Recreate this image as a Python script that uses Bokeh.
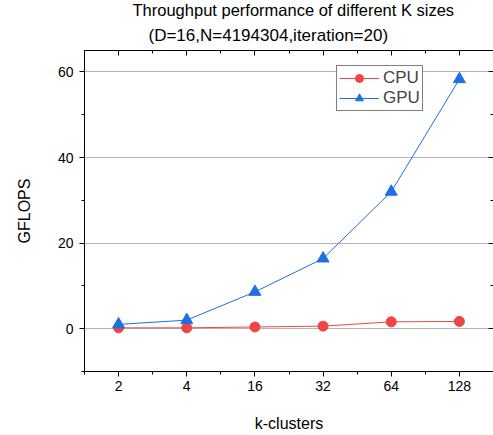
from bokeh.plotting import figure
from bokeh.models import (FixedTicker, LinearAxis, Range1d, Legend, LegendItem, Title)
from bokeh.embed import file_html
from bokeh.resources import INLINE

categories = ["2", "4", "16", "32", "64", "128"]
cpu = [0.2, 0.2, 0.4, 0.6, 1.6, 1.7]
gpu = [1.0, 2.0, 8.6, 16.4, 32.0, 58.3]
y_ticks = [0, 20, 40, 60]
y_minor = [-10, 10, 30, 50]
title_1 = "Throughput performance of different K sizes"
title_2 = "(D=16,N=4194304,iteration=20)"
x_label = "k-clusters"
y_label = "GFLOPS"

xs = list(range(len(categories)))
FONT = "Liberation Sans"

p = figure(frame_width=409, frame_height=321, output_backend="svg", toolbar_location=None,
           x_range=Range1d(-0.5, len(categories) - 0.5), y_range=Range1d(-10, 65),
           min_border_left=84, min_border_right=0, min_border_top=0, min_border_bottom=0)
p.xaxis.visible = False
p.yaxis.visible = False
p.xgrid.visible = False
p.ygrid.ticker = FixedTicker(ticks=y_ticks)
p.ygrid.grid_line_color = "#b4b4b4"
p.ygrid.grid_line_width = 1
p.outline_line_color = None

x_minor = [i - 0.5 for i in range(len(categories) + 1)]
xt = FixedTicker(ticks=xs, minor_ticks=x_minor)
yt = FixedTicker(ticks=y_ticks, minor_ticks=y_minor)

def style(ax, tin=0, tout=5):
    ax.axis_line_color = "black"
    ax.major_tick_line_color = "black"
    ax.minor_tick_line_color = "black"
    ax.major_tick_in = tin
    ax.major_tick_out = tout
    ax.minor_tick_in = 0 if tout else 3
    ax.minor_tick_out = 3 if tout else 0
    ax.major_label_text_font = FONT
    ax.major_label_text_font_size = "14px"
    ax.major_label_text_color = "black"
    ax.axis_label_text_font = FONT
    ax.axis_label_text_font_style = "normal"
    ax.axis_label_text_color = "black"

bottom = LinearAxis(ticker=xt, axis_label=x_label,
                    major_label_overrides={i: c for i, c in enumerate(categories)})
style(bottom)
bottom.major_label_standoff = 4
bottom.axis_label_text_font_size = "16px"
bottom.axis_label_standoff = 21
p.add_layout(bottom, "below")

left = LinearAxis(ticker=yt, axis_label=y_label)
style(left)
left.axis_label_text_font_size = "16px"
left.axis_label_standoff = 22
left.major_label_standoff = 6
p.add_layout(left, "left")

top = LinearAxis(ticker=xt, major_label_overrides={i: "" for i in xs})
style(top, tin=5, tout=0)
top.major_label_standoff = 0
p.add_layout(top, "above")

right = LinearAxis(ticker=yt, major_label_overrides={v: "" for v in y_ticks})
style(right, tin=5, tout=0)
right.axis_line_color = None
right.major_label_standoff = 0
p.add_layout(right, "right")

RED = "#EF4545"
BLUE = "#1F6FE0"
c_line = p.line(xs, cpu, line_color=RED, line_width=1)
c_mark = p.scatter(xs, cpu, marker="circle", size=10, fill_color=RED, line_color=RED)
g_line = p.line(xs, gpu, line_color=BLUE, line_width=1)
g_mark = p.scatter(xs, gpu, marker="triangle", size=12, fill_color=BLUE, line_color=BLUE)

legend = Legend(items=[LegendItem(label="CPU", renderers=[c_line, c_mark]),
                       LegendItem(label="GPU", renderers=[g_line, g_mark])],
                location=(252, 260))
legend.label_text_font = FONT
legend.label_text_font_size = "17px"
legend.border_line_color = "black"
legend.border_line_width = 1
legend.padding = 2
legend.margin = 0
legend.spacing = 0
legend.glyph_width = 40
legend.glyph_height = 20
legend.label_height = 20
legend.label_standoff = 4
legend.background_fill_alpha = 1
p.add_layout(legend, "center")

t2 = Title(text=title_2, align="left", offset=64, text_font=FONT, text_font_size="17px",
           text_font_style="normal", text_color="black", standoff=12)
t1 = Title(text=title_1, align="left", offset=48, text_font=FONT, text_font_size="16.5px",
           text_font_style="normal", text_color="black", standoff=-3)
p.add_layout(t2, "above")
p.add_layout(t1, "above")
p.title.visible = False

open("out.html", "w").write(file_html(p, INLINE))
